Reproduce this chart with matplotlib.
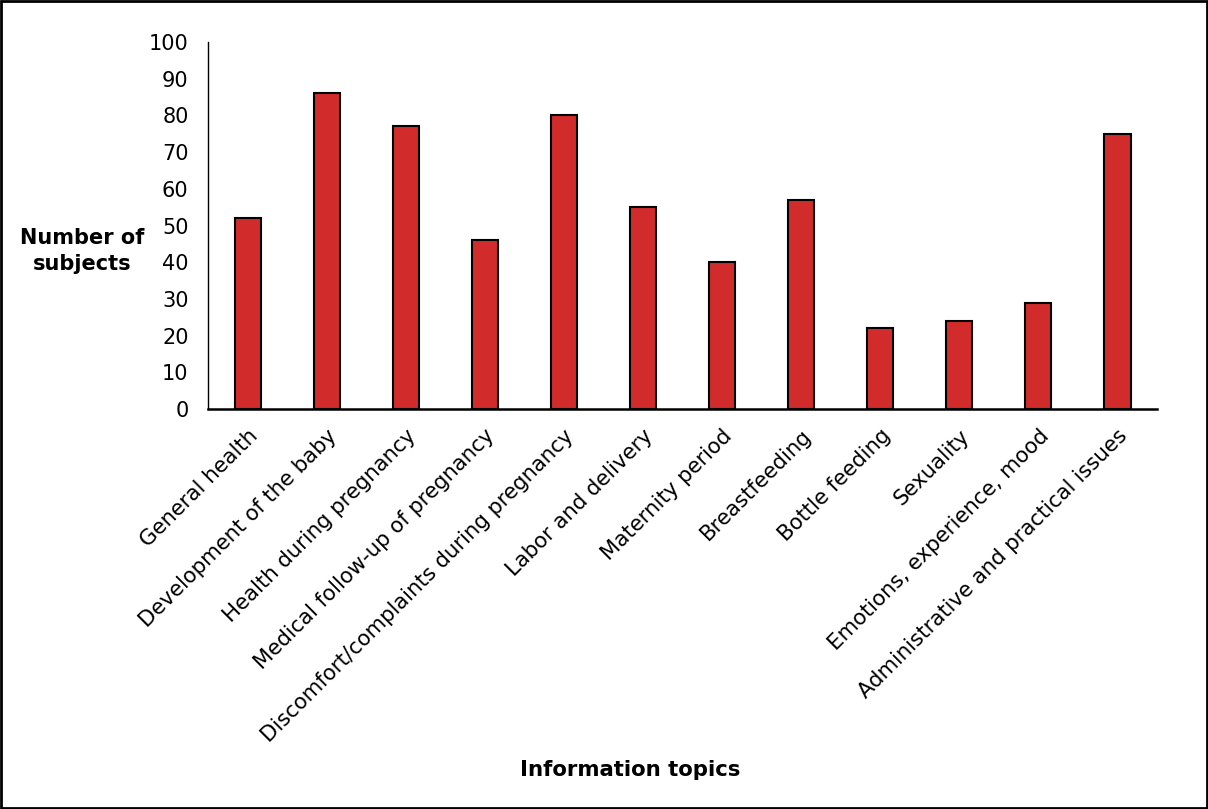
import matplotlib
matplotlib.use("Agg")
import matplotlib.pyplot as plt
from matplotlib.patches import Rectangle

topics = [
    "General health",
    "Development of the baby",
    "Health during pregnancy",
    "Medical follow-up of pregnancy",
    "Discomfort/complaints during pregnancy",
    "Labor and delivery",
    "Maternity period",
    "Breastfeeding",
    "Bottle feeding",
    "Sexuality",
    "Emotions, experience, mood",
    "Administrative and practical issues",
]
subjects = [52, 86, 77, 46, 80, 55, 40, 57, 22, 24, 29, 75]
y_ticks = list(range(0, 101, 10))

plt.rcParams["font.family"] = ["DejaVu Sans"]

fig = plt.figure(figsize=(12.08, 8.09), dpi=100)
ax = fig.add_axes([0.1722, 0.4944, 0.7856, 0.4536])

x = range(len(topics))
ax.bar(x, subjects, width=0.33, color="#D22B2B", edgecolor="black", linewidth=1.5, zorder=3)

ax.set_xlim(-0.5, len(topics) - 0.5)
ax.set_ylim(0, 100)
ax.set_yticks(y_ticks)
ax.set_yticklabels([str(t) for t in y_ticks], fontsize=15)
ax.set_xticks(list(x))
ax.set_xticklabels(topics, rotation=45, ha="right", rotation_mode="anchor", fontsize=15.3)
ax.tick_params(axis="y", length=0, pad=14)
ax.tick_params(axis="x", length=0, pad=12)

for side in ("top", "right"):
    ax.spines[side].set_visible(False)
ax.spines["left"].set_linewidth(1.0)
ax.spines["bottom"].set_linewidth(1.8)

fig.text(0.068, 0.69, "Number of\nsubjects", ha="center", va="center",
         fontsize=15, fontweight="bold", linespacing=1.35)
fig.text(0.522, 0.048, "Information topics", ha="center", va="center",
         fontsize=15.3, fontweight="bold")

# outer frame
fig.patches.append(Rectangle((0.001, 0.001), 0.998, 0.998, transform=fig.transFigure,
                             fill=False, edgecolor="black", linewidth=2))

fig.savefig("out.png", dpi=100)
